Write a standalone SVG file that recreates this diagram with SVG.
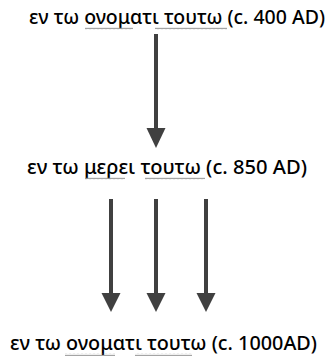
<svg xmlns="http://www.w3.org/2000/svg" width="332" height="359" viewBox="0 0 332 359">
<style>
.t{font-family:"Noto Sans","DejaVu Sans",sans-serif;font-size:20px;font-weight:500;fill:#000}
.ln{stroke:#404040;stroke-width:4;fill:none}
.hd{fill:#404040}
</style>
<defs>
<pattern id="wv" width="4" height="3" patternUnits="userSpaceOnUse">
<path d="M0 2.2 L1 0.8 L2 2.2 L3 0.8 L4 2.2" stroke="#9a9a9a" stroke-width="0.9" fill="none"/>
</pattern>
</defs>
<rect width="332" height="359" fill="#fff"/>
<g id="node1">
<text class="t" x="29" y="24" textLength="296" lengthAdjust="spacingAndGlyphs">εν τω ονοματι τουτω (c. 400 AD)</text>
<rect x="85" y="27" width="48" height="3" fill="url(#wv)"/>
<rect x="155" y="27" width="72" height="3" fill="url(#wv)"/>
</g>
<g id="node2">
<text class="t" x="27" y="174" textLength="280" lengthAdjust="spacingAndGlyphs">εν τω μερει τουτω (c. 850 AD)</text>
<rect x="85" y="177" width="40" height="3" fill="url(#wv)"/>
<rect x="145" y="177" width="60" height="3" fill="url(#wv)"/>
</g>
<g id="node3">
<text class="t" x="10" y="350" textLength="307" lengthAdjust="spacingAndGlyphs">εν τω ονοματι τουτω (c. 1000AD)</text>
<rect x="65" y="353" width="50" height="3" fill="url(#wv)"/>
<rect x="135" y="353" width="57" height="3" fill="url(#wv)"/>
</g>
<g id="connectors">
<line class="ln" x1="156" y1="34" x2="156" y2="130"/>
<polygon class="hd" points="146.5,128 165.5,128 156,148"/>
<line class="ln" x1="111" y1="199" x2="111" y2="295"/>
<polygon class="hd" points="101.5,293 120.5,293 111,312"/>
<line class="ln" x1="156" y1="199" x2="156" y2="295"/>
<polygon class="hd" points="146.5,293 165.5,293 156,312"/>
<line class="ln" x1="206" y1="199" x2="206" y2="295"/>
<polygon class="hd" points="196.5,293 215.5,293 206,312"/>
</g>
</svg>
